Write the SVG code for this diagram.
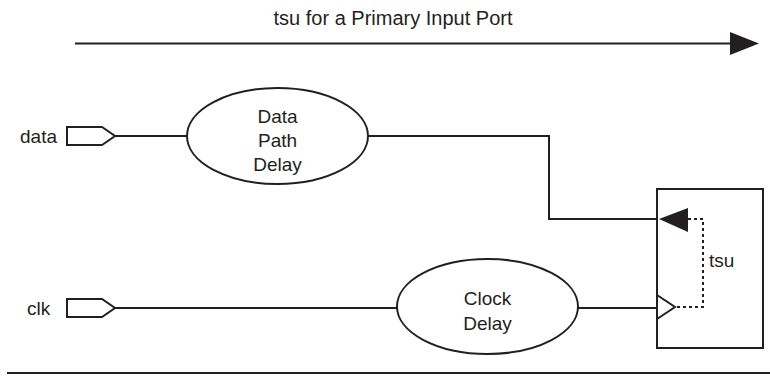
<svg xmlns="http://www.w3.org/2000/svg" width="770" height="377" viewBox="0 0 770 377">
<style>
.ln{fill:none;stroke:#231f20;stroke-width:2}
.sh{fill:#fff;stroke:#231f20;stroke-width:2}
.dot{fill:none;stroke:#231f20;stroke-width:2;stroke-dasharray:3,3}
.t{font-family:"Liberation Sans",Arial,sans-serif;font-size:19px;fill:#231f20}
.m{text-anchor:middle}
</style>
<rect width="770" height="377" fill="#fff"/>
<g id="title">
<text class="t m" x="393" y="25" style="font-size:20px">tsu for a Primary Input Port</text>
<line class="ln" x1="75" y1="43.5" x2="732" y2="43.5"/>
<polygon points="730,32 759,43.5 730,55" fill="#231f20"/>
</g>
<g id="connectors">
<polyline class="ln" points="115,136 187,136"/>
<polyline class="ln" points="368,136 549,136 549,219 659,219"/>
<polyline class="ln" points="115,308 397,308"/>
<polyline class="ln" points="578,308 657,308"/>
</g>
<g id="data">
<text class="t" x="20" y="143">data</text>
<polygon class="sh" points="67,127 102,127 115,136 102,145 67,145"/>
</g>
<g id="clk">
<text class="t" x="27" y="315">clk</text>
<polygon class="sh" points="67,299 102,299 115,308 102,317 67,317"/>
</g>
<g id="data-path-delay">
<ellipse class="sh" cx="277.5" cy="136" rx="90.5" ry="48"/>
<text class="t m" x="277.5" y="123">Data</text>
<text class="t m" x="277.5" y="147">Path</text>
<text class="t m" x="277.5" y="171">Delay</text>
</g>
<g id="clock-delay">
<ellipse class="sh" cx="487.5" cy="306.5" rx="90.5" ry="47.5"/>
<text class="t m" x="487.5" y="305">Clock</text>
<text class="t m" x="487.5" y="330">Delay</text>
</g>
<g id="register">
<rect class="sh" x="657" y="189" width="106" height="159"/>
<polygon points="659,219 688,208 688,232" fill="#231f20"/>
<polyline class="ln" points="657,295 675,307 657,319"/>
<polyline class="dot" points="688,219 703,219 703,307 675,307"/>
<text class="t" x="709" y="267">tsu</text>
</g>
<line class="ln" x1="7" y1="373" x2="770" y2="373"/>
</svg>
